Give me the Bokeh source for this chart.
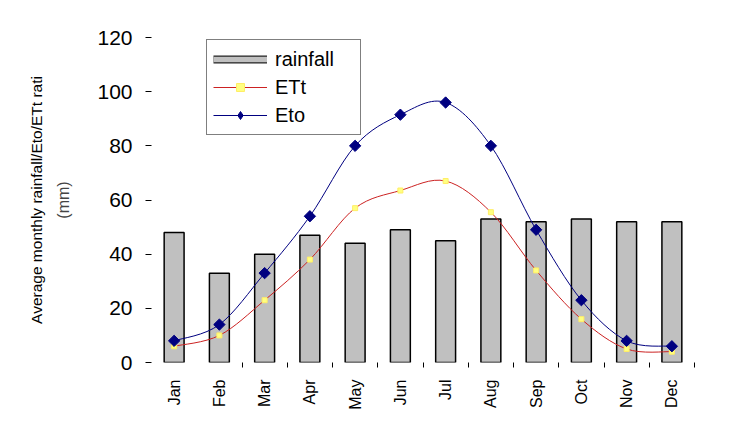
import math
from bokeh.plotting import figure
from bokeh.models import Range1d, FixedTicker, Legend, LegendItem, Title, ColumnDataSource
from bokeh.embed import file_html
from bokeh.resources import INLINE

months = ["Jan", "Feb", "Mar", "Apr", "May", "Jun", "Jul", "Aug", "Sep", "Oct", "Nov", "Dec"]
rainfall = [48, 33, 40, 47, 44, 49, 45, 53, 52, 53, 52, 52]
ett = [6, 10, 23, 38, 57, 63.5, 67, 55.5, 34, 16, 5, 4]
eto = [8, 14, 33, 54, 80, 91.5, 96, 80, 49, 23, 8, 6]
y_ticks = [0, 20, 40, 60, 80, 100, 120]

x = list(range(1, len(months) + 1))

FONT = "Liberation Sans"
NAN = float("nan")


def smooth(xs, ys):
    """Bezier control points (Catmull-Rom style) for a smoothed line through the data."""
    n = len(xs)
    d = dict(x0=[], y0=[], x1=[], y1=[], cx0=[], cy0=[], cx1=[], cy1=[])
    t = 1.0 / 6.0
    for i in range(n - 1):
        a = max(i - 1, 0)
        b = min(i + 2, n - 1)
        d["x0"].append(xs[i]); d["y0"].append(ys[i])
        d["x1"].append(xs[i + 1]); d["y1"].append(ys[i + 1])
        d["cx0"].append(xs[i] + (xs[i + 1] - xs[a]) * t)
        d["cy0"].append(ys[i] + (ys[i + 1] - ys[a]) * t)
        d["cx1"].append(xs[i + 1] - (xs[b] - xs[i]) * t)
        d["cy1"].append(ys[i + 1] - (ys[b] - ys[i]) * t)
    return ColumnDataSource(d)


p = figure(width=734, height=412, output_backend="svg", toolbar_location=None,
           x_range=Range1d(0.5, 12.5), y_range=Range1d(0, 120),
           min_border_left=151, min_border_right=40, min_border_top=37, min_border_bottom=49)
p.outline_line_color = None
p.xgrid.visible = False
p.ygrid.visible = False
p.background_fill_color = "white"
p.border_fill_color = "white"

ETO_COLOR = "#000080"
ETT_COLOR = "#cc2222"
BAR_FILL = "#c0c0c0"

p.vbar(x=x, top=rainfall, width=0.44, fill_color=BAR_FILL, line_color="black", line_width=1.5)

p.bezier(source=smooth(x, ett), x0="x0", y0="y0", x1="x1", y1="y1",
         cx0="cx0", cy0="cy0", cx1="cx1", cy1="cy1", line_color=ETT_COLOR, line_width=1)
ett_pts = p.scatter(x=x, y=ett, marker="square", size=5, fill_color="#ffff80", line_color="#ffee66")

p.bezier(source=smooth(x, eto), x0="x0", y0="y0", x1="x1", y1="y1",
         cx0="cx0", cy0="cy0", cx1="cx1", cy1="cy1", line_color=ETO_COLOR, line_width=1)
p.scatter(x=x, y=eto, marker="square", angle=math.pi / 4, size=8,
          fill_color=ETO_COLOR, line_color=ETO_COLOR)

# legend proxies (not visible in the plot area)
rain_a = p.line(x=[NAN], y=[NAN], line_color="#222222", line_width=8)
rain_b = p.line(x=[NAN], y=[NAN], line_color=BAR_FILL, line_width=5.5)
ett_l = p.line(x=[NAN], y=[NAN], line_color=ETT_COLOR, line_width=1)
eto_l = p.line(x=[NAN], y=[NAN], line_color=ETO_COLOR, line_width=1)
eto_m = p.scatter(x=[NAN], y=[NAN], marker="diamond", fill_color=ETO_COLOR, line_color=ETO_COLOR)

legend = Legend(items=[
    LegendItem(label="rainfall", renderers=[rain_a, rain_b]),
    LegendItem(label="ETt", renderers=[ett_l, ett_pts]),
    LegendItem(label="Eto", renderers=[eto_l, eto_m]),
], location=(55, 227))
legend.glyph_width = 54
legend.glyph_height = 20
legend.label_height = 26
legend.label_width = 79
legend.label_standoff = 8
legend.spacing = 2
legend.padding = 6
legend.margin = 0
legend.border_line_color = "black"
legend.border_line_width = 1.5
legend.background_fill_color = "white"
legend.background_fill_alpha = 1
legend.label_text_font = FONT
legend.label_text_font_size = "20px"
legend.label_text_color = "black"
p.add_layout(legend)

# y axis
ya = p.yaxis[0]
ya.ticker = FixedTicker(ticks=y_ticks)
ya.axis_line_color = None
ya.major_tick_line_color = "black"
ya.major_tick_out = 6
ya.major_tick_in = 0
ya.minor_tick_line_color = None
ya.major_label_standoff = 13
ya.major_label_text_font = FONT
ya.major_label_text_font_size = "21px"
ya.major_label_text_color = "black"
ya.axis_label = "(mm)"
ya.axis_label_text_font = FONT
ya.axis_label_text_font_size = "16px"
ya.axis_label_text_font_style = "normal"
ya.axis_label_standoff = 22

ytitle = Title(text="Average monthly rainfall/Eto/ETt rati", align="center",
               text_font=FONT, text_font_size="15.5px", text_font_style="normal",
               text_color="black", standoff=16)
p.add_layout(ytitle, "left")

# x axis
xa = p.xaxis[0]
xa.ticker = FixedTicker(ticks=x, minor_ticks=[v + 0.5 for v in x[1:]])
xa.major_label_overrides = {v: m for v, m in zip(x, months)}
xa.major_label_orientation = math.pi / 2
xa.axis_line_color = None
xa.major_tick_line_color = None
xa.major_tick_out = 0
xa.major_tick_in = 0
xa.minor_tick_line_color = "black"
xa.minor_tick_out = 5
xa.minor_tick_in = 0
xa.major_label_standoff = 12
xa.major_label_text_font = FONT
xa.major_label_text_font_size = "16px"
xa.major_label_text_color = "black"

open("out.html", "w").write(file_html(p, INLINE))
